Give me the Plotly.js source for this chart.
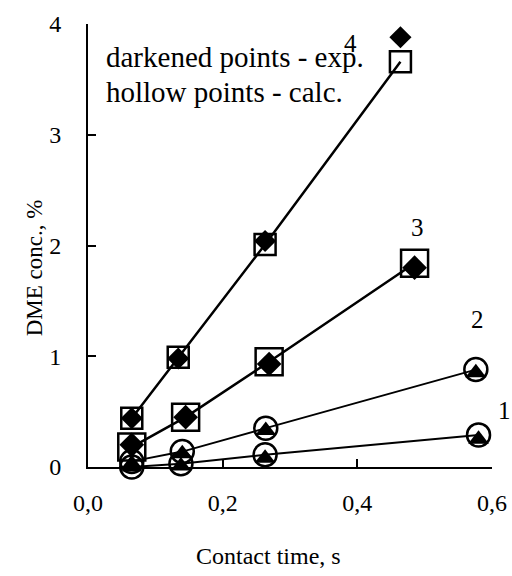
<!DOCTYPE html>
<html>
<head>
<meta charset="utf-8">
<script src="https://cdn.plot.ly/plotly-3.0.1.min.js"></script>
<style>html,body{margin:0;padding:0;background:#fff;}#chart{width:512px;height:576px;}</style>
</head>
<body>
<div id="chart"></div>
<script>
// Contact time (s) per series
const x4 = [0.065, 0.134, 0.263, 0.464];
const x3 = [0.065, 0.145, 0.269, 0.485];
const x2 = [0.065, 0.140, 0.264, 0.576];
const x1 = [0.065, 0.138, 0.263, 0.580];
// Experimental (darkened) values, DME conc. %
const exp4 = [0.44, 0.98, 2.04, 3.88];
const exp3 = [0.20, 0.45, 0.93, 1.80];
const exp2 = [0.03, 0.12, 0.33, 0.85];
const exp1 = [0.00, 0.01, 0.08, 0.25];
// Calculated (hollow) values
const calc4 = [0.44, 0.99, 2.01, 3.66];
const calc3 = [0.18, 0.45, 0.95, 1.84];
const calc2 = [0.05, 0.14, 0.35, 0.88];
const calc1 = [0.00, 0.03, 0.11, 0.29];
// Tick labels
const xTickVals = [0, 0.2, 0.4, 0.6];
const xTickText = ['0,0', '0,2', '0,4', '0,6'];
const yTickVals = [0, 1, 2, 3, 4];
const yTickText = ['0', '1', '2', '3', '4'];
// Curve labels (positions as fractions of the plot area)
const curveLabels = ['1', '2', '3', '4'];
const curveLabelX = [1.03, 0.963, 0.815, 0.649];
const curveLabelY = [0.128, 0.333, 0.54, 0.957];

const FONT = 'Liberation Serif, Times New Roman, serif';

function calcTrace(x, y, sym, size, lw) {
  return {x: x, y: y, type: 'scatter', mode: 'lines+markers', cliponaxis: false,
    line: {color: '#000', width: lw},
    marker: {symbol: sym, size: size, color: 'rgba(255,255,255,0)', line: {color: '#000', width: 2.5}},
    hoverinfo: 'skip', showlegend: false};
}
function expTrace(x, y, sym, size) {
  return {x: x, y: y, type: 'scatter', mode: 'markers', cliponaxis: false,
    marker: {symbol: sym, size: size, color: '#000', line: {width: 0}},
    hoverinfo: 'skip', showlegend: false};
}

const data = [
  calcTrace(x1, calc1, 'circle', 23, 2),
  calcTrace(x2, calc2, 'circle', 23, 1.8),
  calcTrace(x3, calc3, 'square', 27, 2.5),
  calcTrace(x4, calc4, 'square', 21, 2.5),
  expTrace(x1, exp1, 'triangle-up', 18),
  expTrace(x2, exp2, 'triangle-up', 18),
  expTrace(x3, exp3, 'diamond', 19),
  expTrace(x4, exp4, 'diamond', 17)
];

const annotations = curveLabels.map((t, i) => ({
  x: curveLabelX[i], y: curveLabelY[i], xref: 'paper', yref: 'paper', xanchor: 'center', yanchor: 'middle',
  text: t, showarrow: false, font: {family: FONT, size: 25, color: '#000'}
}));
annotations.push({x: 0.04, y: 0.925, xref: 'paper', yref: 'paper', xanchor: 'left', yanchor: 'middle', text: 'darkened points - exp.', showarrow: false, font: {family: FONT, size: 29, color: '#000'}});
annotations.push({x: 0.04, y: 0.846, xref: 'paper', yref: 'paper', xanchor: 'left', yanchor: 'middle', text: 'hollow points - calc.', showarrow: false, font: {family: FONT, size: 29, color: '#000'}});
// Axis titles
annotations.push({x: 0.446, y: -0.2, xref: 'paper', yref: 'paper', xanchor: 'center', yanchor: 'middle', text: 'Contact time, s', showarrow: false, font: {family: FONT, size: 24, color: '#000'}});
annotations.push({x: -0.132, y: 0.45, xref: 'paper', yref: 'paper', xanchor: 'center', yanchor: 'middle', text: 'DME conc., %', textangle: -90, showarrow: false, font: {family: FONT, size: 23, color: '#000'}});

const layout = {
  width: 512, height: 576,
  margin: {l: 88, r: 20, t: 24, b: 109},
  paper_bgcolor: '#fff', plot_bgcolor: '#fff',
  font: {family: FONT, size: 24, color: '#000'},
  showlegend: false,
  xaxis: {range: [0, 0.6], tickvals: xTickVals, ticktext: xTickText,
    showgrid: false, zeroline: false, showline: true, linecolor: '#000', linewidth: 2,
    ticks: 'inside', ticklen: 8, tickwidth: 2, tickcolor: '#000', ticklabelstandoff: 13,
    tickfont: {family: FONT, size: 24}, fixedrange: true},
  yaxis: {range: [0, 4], tickvals: yTickVals, ticktext: yTickText,
    showgrid: false, zeroline: false, showline: true, linecolor: '#000', linewidth: 2,
    ticks: 'inside', ticklen: 8, tickwidth: 2, tickcolor: '#000', ticklabelstandoff: 20,
    tickfont: {family: FONT, size: 24}, fixedrange: true},
  annotations: annotations
};

Plotly.newPlot('chart', data, layout, {displayModeBar: false, staticPlot: true});
</script>
</body>
</html>
